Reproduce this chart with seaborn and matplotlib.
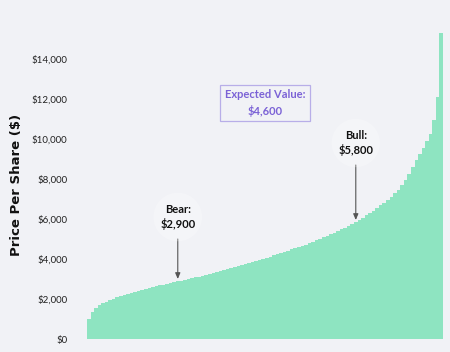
import matplotlib
matplotlib.use("Agg")
import matplotlib.pyplot as plt
import seaborn as sns
import numpy as np
from matplotlib.ticker import FuncFormatter

# ---- data (sorted simulated price outcomes) ----
prices = [
    1000, 1350, 1550, 1680, 1780, 1870, 1950, 2020, 2090, 2150,
    2200, 2250, 2300, 2350, 2400, 2450, 2500, 2550, 2600, 2640,
    2680, 2720, 2760, 2800, 2840, 2880, 2920, 2960, 3000, 3040,
    3080, 3120, 3160, 3210, 3260, 3310, 3360, 3410, 3460, 3510,
    3560, 3610, 3660, 3710, 3760, 3810, 3860, 3910, 3960, 4010,
    4060, 4120, 4180, 4240, 4300, 4360, 4420, 4480, 4540, 4600,
    4660, 4720, 4790, 4860, 4930, 5000, 5080, 5160, 5240, 5320,
    5400, 5480, 5570, 5660, 5750, 5850, 5960, 6070, 6180, 6300,
    6420, 6550, 6680, 6820, 6960, 7120, 7290, 7470, 7700, 7950,
    8250, 8600, 8950, 9250, 9550, 9900, 10250, 10950, 12100, 15300,
]
scenario_idx = list(range(len(prices)))
y_ticks = [0, 2000, 4000, 6000, 8000, 10000, 12000, 14000]
bear_label, bear_value, bear_idx = "Bear:\n$2,900", 2900, 25
bull_label, bull_value, bull_idx = "Bull:\n$5,800", 5800, 75
ev_label = "Expected Value:\n$4,600"
y_label = "Price Per Share ($)"

BG = "#f1f2f6"
BAR = "#8ee4c1"
PURPLE = "#7b62d6"

sns.set_style("white")
plt.rcParams["font.family"] = ["Lato", "DejaVu Sans"]

fig = plt.figure(figsize=(4.5, 3.52), dpi=100, facecolor=BG)
ax = fig.add_axes([72 / 450, 13 / 352, (446 - 72) / 450, (322 - 13) / 352])
ax.set_facecolor(BG)

sns.barplot(x=scenario_idx, y=prices, color=BAR, saturation=1, width=1.0,
            linewidth=0, ax=ax)

ax.set_xlim(-0.5 - 4.21, len(prices) - 0.5 + 0.84)
ax.set_ylim(0, 15450)
ax.set_xticks([])
ax.set_xlabel("")
ax.set_yticks(y_ticks)
ax.yaxis.set_major_formatter(FuncFormatter(lambda v, p: f"${int(v):,}"))
ax.tick_params(axis="y", length=2, width=0.6, color="#888888", pad=1.5,
               labelsize=7, labelcolor="#222222")
for sp in ax.spines.values():
    sp.set_visible(False)

ax.set_ylabel(y_label, fontsize=9.5, fontweight="bold", color="#111111",
              labelpad=6, family=["DejaVu Sans"])

# Expected value box
ax.text(49.5, 11800, ev_label, ha="center", va="center", fontsize=8,
        fontweight="bold", color=PURPLE, linespacing=1.5,
        bbox=dict(boxstyle="square,pad=0.4", facecolor=BG, edgecolor="#b8aee8",
                  linewidth=0.9))

# Bear / Bull annotations
arrowprops = dict(arrowstyle="-|>,head_length=0.35,head_width=0.15",
                  color="#555555", linewidth=0.8, shrinkA=0, shrinkB=0)
for lbl, val, idx, ytxt, ytip in [
    (bear_label, bear_value, bear_idx, 6100, 3000),
    (bull_label, bull_value, bull_idx, 9800, 5950),
]:
    ax.annotate("", xy=(idx, ytip), xytext=(idx, ytxt - 1100),
                arrowprops=arrowprops)
    ax.text(idx, ytxt, lbl, ha="center", va="center", fontsize=8,
            fontweight="bold", color="#111111", linespacing=1.35,
            bbox=dict(boxstyle="circle,pad=0.6", facecolor="white",
                      edgecolor="none", alpha=0.25))

fig.savefig("out.png", dpi=100, facecolor=BG)
